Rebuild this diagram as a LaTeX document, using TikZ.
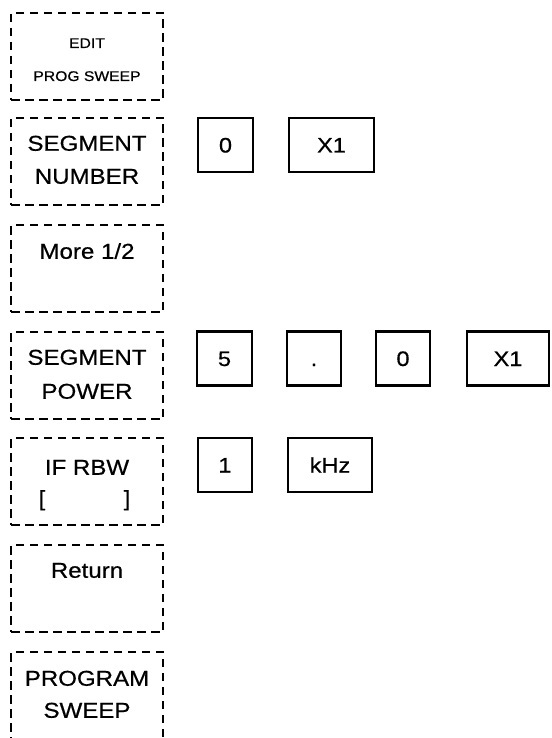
\documentclass[tikz,border=0pt]{standalone}
\usepackage{fontspec}
\setmainfont[FakeStretch=1.12,FakeBold=0.6]{Liberation Sans}
\begin{document}
\begin{tikzpicture}[x=1pt,y=-1pt,
  dbox/.style={draw, line width=2.2pt, dash pattern=on 8.5pt off 5.5pt, minimum width=152pt, minimum height=87pt, inner sep=0pt},
  kbox/.style={draw, line width=2.2pt, minimum height=54pt, inner sep=0pt, font=\fontsize{21}{21}\selectfont, text height=15pt, text depth=0pt},
  big/.style={font=\fontsize{21.5}{21.5}\selectfont, text height=15.5pt, text depth=0pt, inner sep=0pt},
  small/.style={font=\fontsize{14}{14}\selectfont, text height=10pt, text depth=0pt, inner sep=0pt}]
\useasboundingbox (0,0) rectangle (551,738);
\clip (0,0) rectangle (551,738);
% soft-key column
\node[dbox] (b1) at (87,56.5) {};
\node[dbox] (b2) at (87,161.5) {};
\node[dbox] (b3) at (87,268.5) {};
\node[dbox] (b4) at (87,375.5) {};
\node[dbox] (b5) at (87,481.5) {};
\node[dbox] (b6) at (87,588.5) {};
\node[dbox] (b7) at (87,695.5) {};
\node[small] (t1a) at (87,43) {EDIT};
\node[small] (t1b) at (87,76) {PROG SWEEP};
\node[big] (t2a) at (87,143) {SEGMENT};
\node[big] (t2b) at (87,176) {NUMBER};
\node[big] (t3a) at (87,251) {More 1/2};
\node[big] (t4a) at (87,357) {SEGMENT};
\node[big] (t4b) at (87,391) {POWER};
\node[big] (t5a) at (87,467) {IF RBW};
\node[big] (t5b) at (42,498) {[};
\node[big] (t5c) at (127,498) {]};
\node[big] (t6a) at (87,570) {Return};
\node[big] (t7a) at (87,678) {PROGRAM};
\node[big] (t7b) at (87,710) {SWEEP};
% keys
\node[kbox, minimum width=55pt] (k2a) at (225.5,145) {0};
\node[kbox, minimum width=85pt] (k2b) at (331.5,145) {X1};
\node[kbox, minimum width=55pt] (k4a) at (224.5,358.5) {5};
\node[kbox, minimum width=54pt] (k4b) at (314,358.5) {.};
\node[kbox, minimum width=54pt] (k4c) at (403,358.5) {0};
\node[kbox, minimum width=82pt] (k4d) at (508,358.5) {X1};
\node[kbox, minimum width=54pt] (k5a) at (225,465) {1};
\node[kbox, minimum width=84pt] (k5b) at (330,465) {kHz};
\end{tikzpicture}
\end{document}
